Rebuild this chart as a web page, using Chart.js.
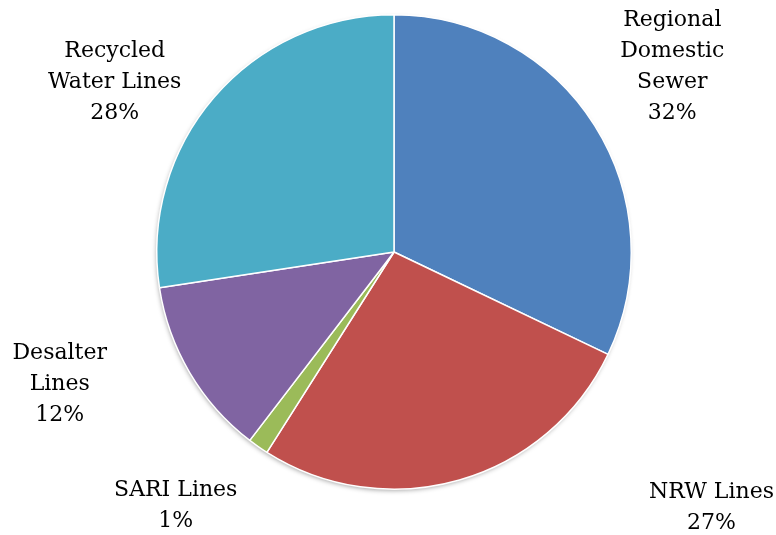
<!DOCTYPE html>
<html>
<head>
<meta charset="utf-8">
<script src="https://cdn.jsdelivr.net/npm/chart.js@4/dist/chart.umd.min.js"></script>
<style>
  html, body { margin: 0; padding: 0; background: #fff; }
  #wrap { width: 776px; height: 535px; position: relative; }
</style>
</head>
<body>
<div id="wrap"><canvas id="grafico"></canvas></div>
<script>
// dados do grafico
var categorias = [["Regional", "Domestic", "Sewer"], ["NRW Lines"], ["SARI Lines"], ["Desalter", "Lines"], ["Recycled", "Water Lines"]];
var valores = [32.1, 26.9, 1.4, 12.2, 27.4];
var rotulos = ["32%", "27%", "1%", "12%", "28%"];
var cores = ["#4F81BD", "#C0504D", "#9BBB59", "#8064A2", "#4BACC6"];

// onde fica cada rotulo, relativo ao centro da pizza (em raios)
var posRotulo = [[1.173, -0.781], [1.338, 1.08], [-0.92, 1.068], [-1.409, 0.557], [-1.177, -0.717]];

// sombra so no contorno da pizza
var sombra = {
    id: "sombra",
    beforeDatasetsDraw: function(chart){
        var a = chart.getDatasetMeta(0).data[0];
        if(!a) return;
        var ctx = chart.ctx;
        ctx.save();
        ctx.shadowColor = "rgba(0,0,0,0.4)";
        ctx.shadowBlur = 5;
        ctx.shadowOffsetX = -1;
        ctx.shadowOffsetY = 2;
        ctx.fillStyle = "#fff";
        ctx.beginPath();
        ctx.arc(a.x, a.y, a.outerRadius - 1, 0, Math.PI * 2);
        ctx.fill();
        ctx.restore();
    }
};

var textos = {
    id: "textos",
    afterDraw: function(chart){
        var ctx = chart.ctx;
        var arcos = chart.getDatasetMeta(0).data;
        ctx.save();
        ctx.fillStyle = "#000";
        ctx.font = "22px 'DejaVu Serif', serif";
        ctx.textAlign = "center";
        ctx.textBaseline = "middle";
        arcos.forEach(function(a, i){
            var r = a.outerRadius;
            var cx = a.x + posRotulo[i][0] * r;
            var cy = a.y + posRotulo[i][1] * r;
            var linhas = categorias[i].concat([rotulos[i]]);
            var alt = 31;
            var y0 = cy - (linhas.length - 1) * alt / 2;
            linhas.forEach(function(l, k){
                ctx.fillText(l, cx, y0 + k * alt);
            });
        });
        ctx.restore();
    }
};

var ctx = document.getElementById("grafico").getContext("2d");
var grafico = new Chart(ctx, {
    type: "pie",
    data: {
        labels: categorias.map(function(c){ return c.join(" "); }),
        datasets: [{
            data: valores,
            backgroundColor: cores,
            borderColor: "#fff",
            borderWidth: 1.5
        }]
    },
    options: {
        responsive: true,
        maintainAspectRatio: false,
        animation: false,
        layout: { padding: { top: 14, bottom: 45, left: 12, right: 0 } },
        plugins: {
            legend: { display: false },
            tooltip: { enabled: false }
        }
    },
    plugins: [sombra, textos]
});
</script>
</body>
</html>
